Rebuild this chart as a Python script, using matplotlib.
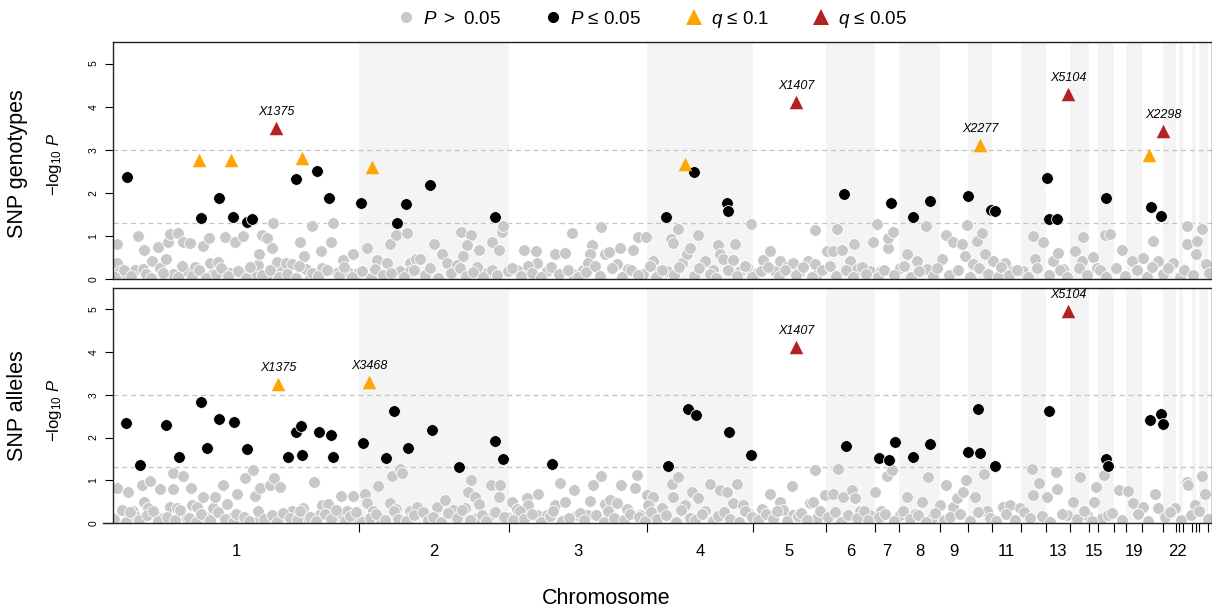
import matplotlib.pyplot as plt
from matplotlib.lines import Line2D

plt.rcParams['font.family'] = ['Liberation Sans', 'DejaVu Sans']
plt.rcParams['mathtext.fontset'] = 'custom'
plt.rcParams['mathtext.rm'] = 'Liberation Sans'
plt.rcParams['mathtext.it'] = 'Liberation Sans:italic'

# ---- chromosome layout (cumulative genome position, arbitrary units) ----
chrom_names = ['1', '2', '3', '4', '5', '6', '7', '8', '9', '10', '11', '12', '13', '14', '15',
               '17', '18', '19', '20', '21', '22', '23', '24', '25', '26', '27', '28']
chrom_edges = [113, 359, 509, 647, 753, 826, 875, 899, 940, 968, 992, 1021, 1046, 1070,
               1089, 1098, 1114, 1126, 1142, 1163, 1176, 1179, 1183, 1192, 1196, 1199, 1208, 1212]
shown_labels = ['1', '2', '3', '4', '5', '6', '7', '8', '9', '11', '13', '15', '19', '22']

# ---- SNP genotypes: (position, -log10 P) ----
geno_grey = [
    (117, .82), (117, .38), (120, .19), (125, .15), (138, .99), (135, .20), (144, .67), (143, .23),
    (152, .42), (158, .75), (160, .26), (166, .46), (168, .85), (170, 1.04), (178, 1.06), (173, .11),
    (183, .85), (190, .83), (187, .19), (195, .28), (203, .77), (209, .96), (210, .38), (218, .40),
    (213, .11), (225, .98), (223, .19), (230, .13), (235, .85), (243, .99), (242, .15), (253, .09),
    (258, .33), (259, .59), (262, 1.03), (267, .96), (272, .71), (273, 1.29), (267, .09), (277, .40),
    (282, .19), (286, .38), (292, .34), (300, .85), (304, .54), (306, .23), (310, .03), (312, 1.22),
    (321, .65), (322, .26), (331, .86), (333, 1.29), (337, .15), (343, .44), (348, .17), (353, .57),
    (358, .15), (367, .73), (377, .44), (387, .37), (390, .81), (396, 1.03), (407, 1.06), (400, .19),
    (410, .38), (416, .46), (420, .47), (410, .19), (434, .81), (442, .57), (447, .38), (457, .33),
    (461, 1.10), (471, 1.03), (467, .79), (463, .54), (479, .68), (477, .28), (487, .13), (492, .87),
    (499, .67), (502, 1.08), (503, 1.24), (508, .19), (517, .20), (524, .67), (536, .64), (537, .38),
    (547, .19), (555, .57), (565, .61), (572, 1.06), (573, .11), (583, .20), (592, .79), (590, .57),
    (588, .38), (601, 1.20), (605, .57), (609, .63), (620, .73), (617, .34), (628, .23), (633, .67),
    (638, .98), (646, .98), (643, .11), (653, .42), (658, .19), (667, .19), (671, .92), (673, .83),
    (678, 1.17), (682, .38), (687, .57), (690, .73), (698, 1.02), (705, .42), (713, .20), (718, .79),
    (720, .57), (723, .46), (735, .82), (733, .44), (740, .19), (747, .28), (751, 1.28), (757, .15),
    (763, .44), (770, .64), (775, .19), (780, .42), (787, .28), (793, .38), (800, .19), (808, .42),
    (815, 1.13), (817, .11), (815, .34), (827, .65), (833, .65), (837, 1.16), (842, .67), (850, .42),
    (854, .81), (857, .23), (870, .19), (873, .85), (877, 1.27), (881, .19), (888, .73), (888, .96),
    (893, 1.08), (900, .26), (907, .57), (917, .42), (926, 1.24), (927, .23), (942, .46), (946, 1.02),
    (953, .86), (962, .82), (967, 1.25), (965, .54), (973, .34), (977, .89), (982, 1.06), (985, .57),
    (993, .42), (1005, .36), (1013, .19), (1023, .19), (1033, 1.00), (1043, .85), (1035, .46),
    (1053, .42), (1058, .61), (1063, .23), (1075, .64), (1083, .98), (1082, .42), (1093, .50),
    (1097, .26), (1105, 1.02), (1110, 1.04), (1122, .67), (1132, .42), (1143, .48), (1153, .89),
    (1158, .42), (1173, .36), (1187, 1.24), (1187, .81), (1196, .57), (1202, 1.16), (1206, .34),
    (1197, .89),
    # dense low band
    (115, .05), (124, .22), (131, .08), (146, .12), (151, .02), (163, .15), (178, .05), (182, .30),
    (192, .08), (199, .20), (206, .03), (216, .12), (221, .25), (228, .06), (238, .18), (246, .02),
    (250, .28), (262, .10), (270, .22), (279, .05), (287, .12), (296, .02), (299, .30), (312, .15),
    (318, .06), (327, .20), (339, .08), (344, .27), (352, .05), (362, .18), (371, .03), (375, .24),
    (383, .10), (391, .15), (404, .05), (414, .22), (425, .10), (430, .26), (438, .03), (451, .15),
    (460, .25), (466, .08), (473, .17), (483, .04), (492, .20), (497, .10), (512, .25), (521, .06),
    (528, .30), (532, .15), (541, .05), (551, .28), (559, .12), (568, .22), (578, .04), (586, .16),
    (595, .30), (600, .08), (612, .25), (622, .05), (631, .20), (638, .10), (650, .30), (656, .05),
    (662, .20), (674, .10), (679, .28), (694, .06), (699, .25), (710, .12), (716, .03), (728, .20),
    (737, .08), (745, .30), (752, .04), (761, .18), (768, .28), (779, .06), (785, .20), (796, .10),
    (803, .28), (812, .05), (822, .20), (830, .30), (836, .08), (846, .20), (853, .05), (862, .28),
    (866, .12), (878, .05), (884, .22), (894, .10), (904, .30), (911, .05), (919, .18), (933, .08),
    (937, .25), (949, .10), (958, .20), (970, .05), (979, .25), (988, .12), (998, .05), (1001, .28),
    (1009, .10), (1017, .22), (1028, .05), (1037, .25), (1049, .10), (1060, .20), (1067, .05),
    (1079, .25), (1087, .10), (1100, .20), (1106, .05), (1116, .25), (1125, .08), (1137, .22),
    (1147, .05), (1152, .28), (1163, .12), (1168, .25), (1180, .05), (1184, .20), (1193, .10),
    (1209, .15),
]
geno_black = [
    (127, 2.36), (201, 1.42), (219, 1.89), (233, 1.45), (247, 1.33), (252, 1.40), (296, 2.33),
    (317, 2.50), (329, 1.89), (361, 1.77), (397, 1.31), (406, 1.75), (430, 2.19), (495, 1.45),
    (666, 1.45), (694, 2.49), (727, 1.77), (728, 1.58), (844, 1.98), (891, 1.77), (913, 1.44),
    (930, 1.82), (968, 1.93), (991, 1.61), (995, 1.58), (1047, 2.35), (1049, 1.40), (1057, 1.40),
    (1106, 1.87), (1151, 1.66), (1161, 1.47),
]
geno_q10 = [(199, 2.76), (231, 2.76), (302, 2.80), (372, 2.61), (685, 2.68), (980, 3.10), (1149, 2.87)]
geno_q10_names = ['', '', '', '', '', 'X2277', '']
geno_q05 = [(276, 3.51), (796, 4.10), (1068, 4.29), (1163, 3.43)]
geno_q05_names = ['X1375', 'X1407', 'X5104', 'X2298']

# ---- SNP alleles ----
alle_grey = [
    (117, .83), (122, .30), (128, .73), (133, .27), (135, .17), (142, .89), (144, .48), (150, .98),
    (148, .34), (155, .19), (160, .79), (163, .11), (173, .80), (173, 1.16), (170, .38), (177, .34),
    (183, 1.11), (187, .11), (191, .81), (192, .42), (197, .38), (203, .62), (207, .11), (213, .34),
    (215, .60), (223, .89), (227, .44), (230, .11), (237, .68), (240, .11), (245, 1.05), (253, 1.23),
    (257, .03), (255, .64), (260, .81), (267, .07), (270, .89), (274, 1.06), (280, .85), (285, .19),
    (292, .28), (303, .36), (308, .11), (314, .97), (320, .20), (322, .42), (328, .44), (333, .11),
    (341, .64), (343, .19), (347, .27), (353, .64), (358, .11), (365, .69), (367, .46), (373, .27),
    (378, .86), (380, .11), (390, .46), (392, 1.11), (396, .33), (400, 1.26), (402, 1.18), (410, .27),
    (417, .38), (410, .11), (437, .38), (445, .54), (453, .30), (465, .34), (471, 1.01), (468, .73),
    (475, .62), (479, .44), (477, .11), (488, .11), (491, .89), (500, .89), (499, .62), (507, .15),
    (512, .48), (517, .33), (527, .58), (528, .42), (538, .67), (537, .19), (547, .19), (555, .42),
    (560, .93), (565, .50), (574, .77), (577, .19), (587, .19), (590, .52), (593, .89), (601, 1.10),
    (605, .44), (610, .54), (617, .46), (621, .89), (627, .33), (635, .81), (637, 1.12), (640, .19),
    (647, .66), (653, .62), (648, .42), (662, .36), (672, .91), (678, 1.08), (673, .61), (685, .42),
    (692, .73), (698, .58), (705, .27), (710, .91), (720, .77), (727, .73), (737, .91), (733, .46),
    (743, .42), (748, .23), (762, .33), (770, .69), (780, .50), (783, .30), (792, .87), (793, .19),
    (810, .46), (815, 1.24), (817, .11), (813, .50), (820, .27), (825, .66), (833, .69), (838, 1.26),
    (843, .62), (852, .77), (855, .58), (860, .27), (870, .19), (875, .73), (881, .28), (887, 1.09),
    (892, 1.24), (900, .19), (907, .62), (915, .20), (922, .48), (928, 1.07), (932, .11), (940, .42),
    (946, .89), (953, .38), (957, .58), (966, 1.01), (963, .73), (975, .62), (984, 1.14), (987, .27),
    (1003, .38), (1010, .42), (1020, .34), (1032, 1.26), (1033, .66), (1039, .93), (1047, .61),
    (1056, 1.20), (1057, .80), (1067, .19), (1073, .50), (1080, 1.08), (1087, .19), (1094, .50),
    (1096, .85), (1104, 1.12), (1102, .11), (1119, .77), (1128, .75), (1133, .46), (1143, .38),
    (1155, .69), (1158, .34), (1175, .36), (1187, .97), (1188, .89), (1195, .42), (1202, 1.11),
    (1205, .69),
    # dense low band
    (114, .10), (126, .03), (130, .25), (139, .06), (147, .18), (153, .28), (158, .04), (167, .15),
    (175, .08), (180, .30), (189, .12), (196, .02), (201, .20), (210, .07), (218, .26), (225, .10),
    (233, .03), (236, .22), (244, .14), (249, .05), (258, .29), (264, .09), (272, .18), (277, .02),
    (283, .24), (290, .11), (297, .06), (300, .27), (310, .15), (316, .04), (325, .20), (331, .09),
    (336, .30), (345, .05), (350, .17), (356, .25), (362, .03), (370, .12), (376, .22), (385, .07),
    (394, .28), (398, .10), (406, .04), (414, .19), (423, .26), (428, .08), (433, .14), (441, .02),
    (448, .23), (457, .11), (462, .30), (470, .06), (482, .18), (486, .04), (495, .25), (504, .13),
    (513, .07), (520, .29), (524, .10), (532, .21), (541, .03), (550, .16), (553, .27), (562, .05),
    (569, .12), (580, .24), (584, .08), (596, .19), (604, .02), (608, .28), (614, .11), (624, .06),
    (630, .22), (639, .15), (645, .04), (651, .26), (657, .09), (666, .18), (676, .03), (681, .30),
    (690, .12), (695, .07), (702, .21), (713, .05), (718, .16), (724, .25), (730, .10), (739, .02),
    (745, .27), (752, .14), (758, .06), (766, .20), (773, .09), (777, .28), (787, .04), (798, .17),
    (801, .23), (807, .08), (828, .13), (835, .26), (841, .03), (848, .19), (857, .11), (864, .29),
    (868, .06), (879, .15), (885, .22), (894, .05), (903, .27), (910, .10), (918, .18), (926, .03),
    (935, .24), (944, .08), (950, .14), (960, .21), (970, .05), (978, .25), (990, .12), (996, .04),
    (1006, .20), (1015, .07), (1024, .26), (1030, .11), (1042, .17), (1050, .03), (1062, .22),
    (1077, .09), (1084, .27), (1092, .05), (1108, .18), (1112, .24), (1122, .08), (1138, .20),
    (1148, .04), (1165, .14), (1170, .25), (1181, .06), (1191, .18), (1199, .28), (1208, .09),
]
alle_black = [
    (126, 2.34), (140, 1.36), (166, 2.30), (179, 1.55), (201, 2.83), (207, 1.76), (219, 2.44),
    (234, 2.37), (247, 1.73), (288, 1.55), (296, 2.13), (301, 2.27), (302, 1.59), (319, 2.13),
    (331, 2.06), (333, 1.55), (363, 1.87), (386, 1.52), (394, 2.62), (408, 1.75), (432, 2.18),
    (459, 1.32), (495, 1.92), (503, 1.50), (552, 1.38), (668, 1.34), (688, 2.67), (696, 2.53),
    (729, 2.13), (751, 1.59), (846, 1.80), (879, 1.52), (889, 1.48), (895, 1.90), (913, 1.55),
    (930, 1.85), (968, 1.67), (978, 2.67), (980, 1.64), (995, 1.34), (1049, 2.62), (1106, 1.50),
    (1108, 1.34), (1150, 2.41), (1161, 2.55), (1163, 2.32),
]
alle_q10 = [(278, 3.25), (369, 3.30)]
alle_q10_names = ['X1375', 'X3468']
alle_q05 = [(796, 4.12), (1068, 4.96)]
alle_q05_names = ['X1407', 'X5104']

grey_col = '#c8c8c8'
orange_col = '#ffa500'
red_col = '#b22222'
band_col = '#f4f4f4'


def draw_panel(ax, grey, black, q10, q10_names, q05, q05_names):
    for i in range(len(chrom_names)):
        if i % 2 == 1:
            ax.axvspan(chrom_edges[i], chrom_edges[i + 1], color=band_col, lw=0, zorder=0)
    for h in (1.301, 3):
        ax.axhline(h, color='#c4c4c4', lw=0.9, ls=(0, (4, 3)), zorder=1)

    gx, gy = zip(*grey)
    ax.scatter(gx, gy, s=72, c=grey_col, edgecolors='white', linewidths=0.6, zorder=2)
    bx, by = zip(*black)
    ax.scatter(bx, by, s=72, c='black', edgecolors='white', linewidths=0.6, zorder=3)
    for pts, names, col in ((q10, q10_names, orange_col), (q05, q05_names, red_col)):
        tx, ty = zip(*pts)
        ax.scatter(tx, ty, s=95, marker='^', c=col, linewidths=0, zorder=4)
        for (x, y), name in zip(pts, names):
            if name:
                ax.text(x, y + 0.37, name, fontsize=9, style='italic', ha='center',
                        va='center', zorder=5)

    ax.set_xlim(chrom_edges[0], chrom_edges[-1])
    ax.set_ylim(0, 5.5)
    ax.set_yticks(range(6))
    ax.tick_params(axis='y', labelsize=7.5, length=5.5, width=0.8, pad=5, labelrotation=90)
    for lbl in ax.get_yticklabels():
        lbl.set_va('center')
    for sp in ax.spines.values():
        sp.set_color('#222222')
        sp.set_linewidth(1.0)


W, H = 1212, 607
fig = plt.figure(figsize=(W / 100, H / 100), dpi=100)
ax_top = fig.add_axes([113 / W, 1 - 279 / H, 1099 / W, 237 / H])
ax_bot = fig.add_axes([113 / W, 1 - 523 / H, 1099 / W, 235 / H])

draw_panel(ax_top, geno_grey, geno_black, geno_q10, geno_q10_names, geno_q05, geno_q05_names)
draw_panel(ax_bot, alle_grey, alle_black, alle_q10, alle_q10_names, alle_q05, alle_q05_names)

ax_top.set_xticks([])

# chromosome boundaries as ticks, names at centres
centres = [(chrom_edges[i] + chrom_edges[i + 1]) / 2 for i in range(len(chrom_names))]
ax_bot.set_xticks(chrom_edges[1:])
ax_bot.set_xticklabels([])
ax_bot.tick_params(axis='x', which='major', length=6.5, width=0.8)
lab_pos = [c for c, n in zip(centres, chrom_names) if n in shown_labels]
lab_txt = [n for n in chrom_names if n in shown_labels]
ax_bot.set_xticks(lab_pos, minor=True)
ax_bot.set_xticklabels(lab_txt, minor=True, fontsize=12)
ax_bot.tick_params(axis='x', which='minor', length=0, pad=15)
ax_bot.spines['bottom'].set_bounds(103, chrom_edges[-1])

# axis titles
ylab = r'$-\mathrm{log}_{10}\ P$'
fig.text(18 / W, 1 - 164 / H, 'SNP genotypes', rotation=90, fontsize=15.5, ha='center', va='center')
fig.text(55 / W, 1 - 164 / H, ylab, rotation=90, fontsize=12, ha='center', va='center')
fig.text(18 / W, 1 - 406 / H, 'SNP alleles', rotation=90, fontsize=15.5, ha='center', va='center')
fig.text(55 / W, 1 - 410 / H, ylab, rotation=90, fontsize=12, ha='center', va='center')
fig.text(0.5, 1 - 598 / H, 'Chromosome', fontsize=15.5, ha='center', va='center')

handles = [
    Line2D([], [], ls='', marker='o', markersize=9, markerfacecolor=grey_col, markeredgecolor='white'),
    Line2D([], [], ls='', marker='o', markersize=9, markerfacecolor='black', markeredgecolor='white'),
    Line2D([], [], ls='', marker='^', markersize=12, markerfacecolor=orange_col, markeredgewidth=0),
    Line2D([], [], ls='', marker='^', markersize=12, markerfacecolor=red_col, markeredgewidth=0),
]
labels = [r'$P\ >\ $0.05', r'$P$ ≤ 0.05', r'$q$ ≤ 0.1', r'$q$ ≤ 0.05']
fig.legend(handles, labels, ncol=4, loc='center', bbox_to_anchor=(652 / W, 1 - 19 / H),
           frameon=False, fontsize=13.5, handlelength=1.0, handletextpad=0.4, columnspacing=2.3)

fig.savefig('out.png', dpi=100)
